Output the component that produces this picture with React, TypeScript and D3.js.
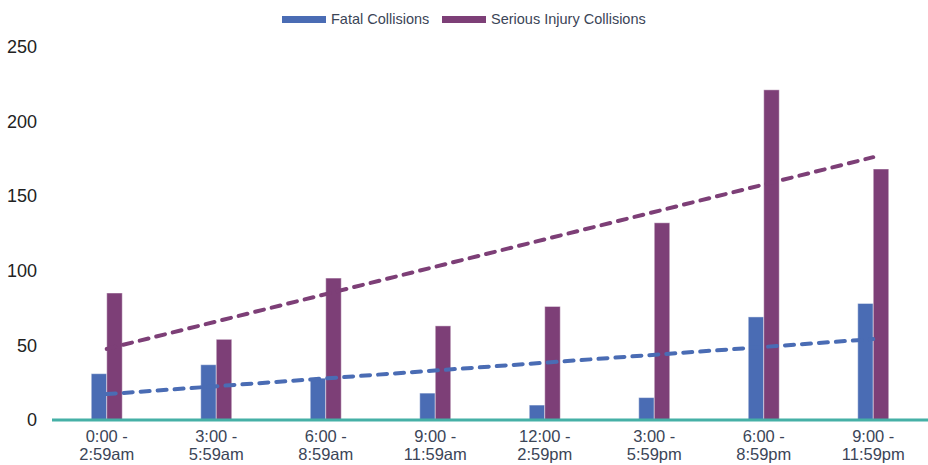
import React from "react";
import * as d3 from "d3";

const categories = [
  ["0:00 -", "2:59am"],
  ["3:00 -", "5:59am"],
  ["6:00 -", "8:59am"],
  ["9:00 -", "11:59am"],
  ["12:00 -", "2:59pm"],
  ["3:00 -", "5:59pm"],
  ["6:00 -", "8:59pm"],
  ["9:00 -", "11:59pm"],
];
const fatal = [31, 37, 28, 18, 10, 15, 69, 78];
const serious = [85, 54, 95, 63, 76, 132, 221, 168];
const yTicks = [0, 50, 100, 150, 200, 250];
const seriesNames = ["Fatal Collisions", "Serious Injury Collisions"];
const colors = ["#4a6cb4", "#7d3f77"];

const W = 928;
const H = 465;
const FONT = "'Liberation Sans Narrow', 'Liberation Sans', Arial, sans-serif";
const TEXT = "#3b4557";

function trend(vals: number[]) {
  const n = vals.length;
  const mx = (n - 1) / 2;
  const my = d3.mean(vals) as number;
  let sxy = 0, sxx = 0;
  vals.forEach((v, i) => { sxy += (i - mx) * (v - my); sxx += (i - mx) ** 2; });
  const b = sxy / sxx;
  const a = my - b * mx;
  return [a, a + b * (n - 1)];
}

export default function App() {
  const x = d3.scaleBand<number>().domain(d3.range(categories.length)).range([52, 928]).paddingInner(0).paddingOuter(0);
  const y = d3.scaleLinear().domain([0, 250]).range([420, 46.5]);
  const barW = 15.5;
  const all = [fatal, serious];
  return (
    <svg width={W} height={H} style={{ position: "absolute", left: 0, top: 0, fontFamily: FONT }}>
      {/* legend */}
      {seriesNames.map((name, i) => {
        const lx = [282, 442][i];
        return (
          <g key={name}>
            <rect x={lx} y={16} width={44} height={7} fill={colors[i]} />
            <text x={lx + 49} y={24} fontSize={14.5} fill={TEXT}>{name}</text>
          </g>
        );
      })}
      {/* y axis labels */}
      {yTicks.map((t) => (
        <text key={t} x={37} y={y(t)} dy="0.35em" textAnchor="end" fontSize={18} fill="#222">{t}</text>
      ))}
      {/* bars */}
      {all.map((vals, s) =>
        vals.map((v, i) => {
          const cx = (x(i) as number) + x.bandwidth() / 2;
          const bx = s === 0 ? cx - barW : cx;
          return (
            <rect key={s + "-" + i} x={bx} y={y(v)} width={barW} height={y(0) - y(v)}
              fill={colors[s]} stroke="#ffffff" strokeOpacity={0.45} strokeWidth={1} />
          );
        })
      )}
      {/* baseline */}
      <line x1={52} x2={928} y1={420} y2={420} stroke="#45b0a6" strokeWidth={3} />
      {/* trend lines */}
      {all.map((vals, s) => {
        const [a, b] = trend(vals);
        const x0 = (x(0) as number) + x.bandwidth() / 2;
        const x1 = (x(vals.length - 1) as number) + x.bandwidth() / 2;
        return (
          <line key={"t" + s} x1={x0} y1={y(a)} x2={x1} y2={y(b)} stroke={colors[s]}
            strokeWidth={4} strokeDasharray="9 8" strokeLinecap="round" />
        );
      })}
      {/* x labels */}
      {categories.map((c, i) => {
        const cx = (x(i) as number) + x.bandwidth() / 2;
        return (
          <text key={i} x={cx} y={442} textAnchor="middle" fontSize={16.5} fill={TEXT}>
            <tspan x={cx}>{c[0]}</tspan>
            <tspan x={cx} dy={18}>{c[1]}</tspan>
          </text>
        );
      })}
    </svg>
  );
}
